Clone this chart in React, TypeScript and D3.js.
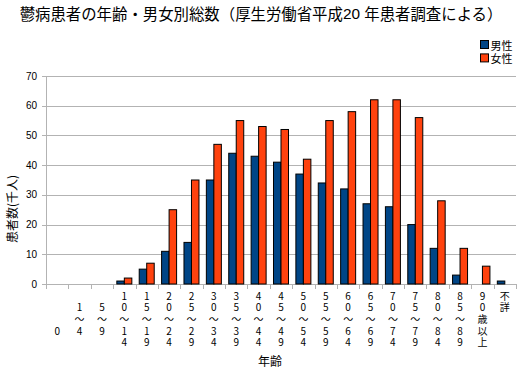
import React from 'react';
import * as d3 from 'd3';

const categories = ['0', '1-4', '5-9', '10-14', '15-19', '20-24', '25-29', '30-34', '35-39', '40-44', '45-49',
  '50-54', '55-59', '60-64', '65-69', '70-74', '75-79', '80-84', '85-89', '90+', 'unknown'];

// tick labels written vertically; number of blank lines above each label
const tickLabels = ['0', '1～4', '5～9', '10～14', '15～19', '20～24', '25～29', '30～34', '35～39', '40～44',
  '45～49', '50～54', '55～59', '60～64', '65～69', '70～74', '75～79', '80～84', '85～89', '90歳以上', '不詳'];
const tickBlankLines = [3, 1, 1, 0, 0, 0, 0, 0, 0, 0, 0, 0, 0, 0, 0, 0, 0, 0, 0, 0, 0];

const male = [0, 0, 0, 1, 5, 11, 14, 35, 44, 43, 41, 37, 34, 32, 27, 26, 20, 12, 3, 0, 1];
const female = [0, 0, 0, 2, 7, 25, 35, 47, 55, 53, 52, 42, 55, 58, 62, 62, 56, 28, 12, 6, 0];

const seriesNames = ['男性', '女性'];
const seriesColors = ['#004586', '#ff420e'];
const yTicks = [0, 10, 20, 30, 40, 50, 60, 70];

const W = 523;
const H = 371;
const left = 46;
const right = 516;
const top = 76;
const bottom = 284;

const jp = '"Noto Sans CJK JP", sans-serif';
const num = '"Liberation Sans", Arial, sans-serif';

export default function App() {
  const x = d3.scaleBand<string>().domain(categories).range([left, right]).padding(0);
  const bw = x.bandwidth();
  const groupW = 15;
  const xSub = d3.scaleBand<string>().domain(seriesNames)
    .range([(bw - groupW) / 2, (bw + groupW) / 2]).padding(0);
  const y = d3.scaleLinear().domain([0, 70]).range([bottom, top]);
  const series = [male, female];
  const lineH = 11.6;

  return (
    <svg width={W} height={H} style={{ position: 'absolute', left: 0, top: 0, background: '#fff' }}>
      <text x={261} y={13} textAnchor="middle" dominantBaseline="central"
        fontFamily={jp} fontSize={15.4}>
        鬱病患者の年齢・男女別総数（厚生労働省平成<tspan fontFamily={num}>20 </tspan>年患者調査による）
      </text>

      {/* grid + y ticks */}
      {yTicks.map(t => (
        <g key={t}>
          <line x1={left - 4} x2={right} y1={Math.round(y(t)) + 0.5} y2={Math.round(y(t)) + 0.5}
            stroke="#b3b3b3" />
          <text x={37} y={y(t)} textAnchor="end" dominantBaseline="central"
            fontFamily={num} fontSize={10}>{t}</text>
        </g>
      ))}
      <line x1={left + 0.5} x2={left + 0.5} y1={top} y2={bottom} stroke="#b3b3b3" />

      {/* x ticks */}
      {categories.concat(['end']).map((c, i) => {
        const xx = Math.round(left + i * bw) + 0.5;
        return <line key={c} x1={xx} x2={xx} y1={bottom} y2={bottom + 5} stroke="#b3b3b3" />;
      })}

      {/* bars */}
      {categories.map((c, i) => (
        <g key={c} transform={`translate(${x(c)},0)`}>
          {series.map((s, k) => s[i] > 0 ? (
            <rect key={k} x={xSub(seriesNames[k])} y={y(s[i])} width={xSub.bandwidth()}
              height={y(0) - y(s[i])} fill={seriesColors[k]} stroke="#000" strokeWidth={1} />
          ) : null)}
        </g>
      ))}

      {/* tick labels, stacked vertically */}
      {categories.map((c, i) => (
        <text key={c} x={(x(c) as number) + bw / 2} y={291 + tickBlankLines[i] * lineH}
          fontFamily={jp} fontSize={10}
          style={{
            writingMode: 'vertical-rl', textOrientation: 'upright', letterSpacing: `${lineH - 10}px`,
            fontFeatureSettings: '"vert" 0, "vrt2" 0',
          }}>
          {tickLabels[i]}
        </text>
      ))}

      {/* axis titles */}
      <text x={270} y={360} textAnchor="middle" dominantBaseline="central" fontFamily={jp} fontSize={12}>年齢</text>
      <text transform="translate(11,209) rotate(-90)" textAnchor="middle" dominantBaseline="central"
        fontFamily={jp} fontSize={12}>患者数(千人)</text>

      {/* legend */}
      {seriesNames.map((n, k) => (
        <g key={n} transform={`translate(480.5,${40.5 + k * 13.4})`}>
          <rect width={8} height={8} fill={seriesColors[k]} stroke="#000" />
          <text x={10} y={4} dominantBaseline="central" fontFamily={jp} fontSize={11}>{n}</text>
        </g>
      ))}
    </svg>
  );
}
